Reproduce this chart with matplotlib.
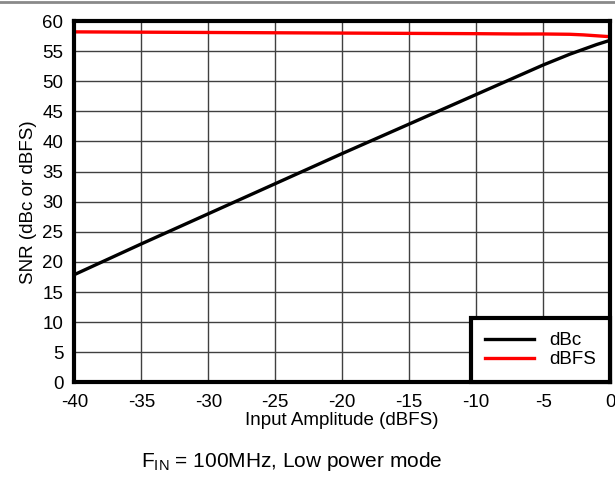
import matplotlib
matplotlib.use('Agg')
from matplotlib import pyplot as plt
from matplotlib.lines import Line2D

plt.rcParams['font.family'] = ['Liberation Sans', 'DejaVu Sans']
plt.rcParams['axes.unicode_minus'] = False

# Input amplitude (dBFS)
ampDbc = [-40, -35, -30, -25, -20, -15, -10, -5, -3, -2, -1, 0]
snrDbc = [17.9, 23.0, 28.0, 33.0, 38.0, 42.9, 47.8, 52.7, 54.5, 55.3, 56.1, 56.8]

ampDbfs = [-40, -30, -20, -15, -10, -7, -5, -3, -2, -1, 0]
snrDbfs = [58.2, 58.1, 58.0, 57.95, 57.9, 57.85, 57.85, 57.8, 57.7, 57.55, 57.4]

xTicks = list(range(-40, 1, 5))
yTicks = list(range(0, 61, 5))


def main():
    fig = plt.figure(figsize=(6.15, 4.78), dpi=100)
    ax = fig.add_axes([0.121, 0.2, 0.871, 0.756])

    ax.plot(ampDbc, snrDbc, color='black', lw=2.4, label='dBc')
    ax.plot(ampDbfs, snrDbfs, color='#ff0000', lw=2.4, label='dBFS')

    ax.set_xlim(-40, 0)
    ax.set_ylim(0, 60)
    ax.set_xticks(xTicks)
    ax.set_yticks(yTicks)
    ax.grid(True, color='#404040', lw=1)
    ax.tick_params(length=0, labelsize=13.5, pad=8)
    for s in ax.spines.values():
        s.set_linewidth(3)
        s.set_color('black')

    ax.set_xlabel('Input Amplitude (dBFS)', fontsize=13.5, labelpad=1)
    ax.set_ylabel('SNR (dBc or dBFS)', fontsize=13.5, labelpad=4)

    leg = ax.legend(loc='lower right', fontsize=13.5, handlelength=2.6,
                    borderaxespad=0, frameon=True, fancybox=False,
                    framealpha=1, borderpad=0.75, labelspacing=0.1)
    leg.get_frame().set_edgecolor('black')
    leg.get_frame().set_linewidth(3)

    fig.text(0.475, 0.01, r'F$_{\mathregular{IN}}$ = 100MHz, Low power mode',
             ha='center', va='bottom', fontsize=15)

    # gray rule across the top
    fig.add_artist(Line2D([0, 1], [0.996, 0.996], color='#8a8a8a', lw=2,
                          transform=fig.transFigure))

    fig.savefig('out.png', dpi=100)


if __name__ == '__main__':
    main()
